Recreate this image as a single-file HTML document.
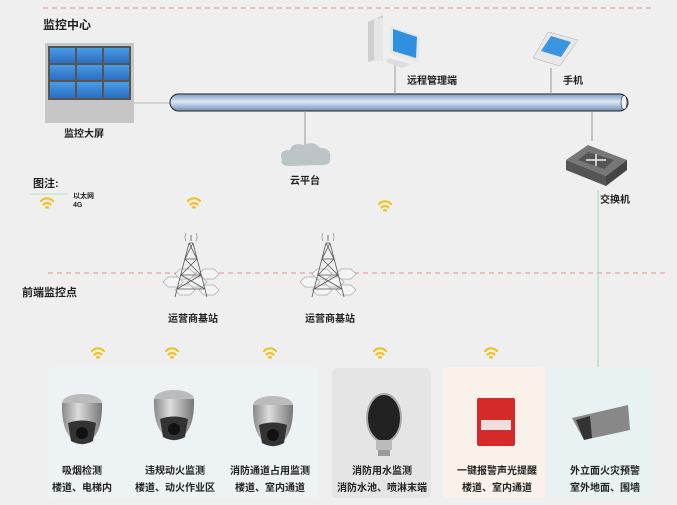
<!DOCTYPE html>
<html><head><meta charset="utf-8"><style>
html,body{margin:0;padding:0;background:#efefef;}
svg{display:block;font-family:"Liberation Sans","Noto Sans CJK SC",sans-serif;}
text{font-weight:bold;fill:#222;}
</style></head><body>
<svg width="677" height="505" viewBox="0 0 677 505" xmlns="http://www.w3.org/2000/svg">
<defs>
<linearGradient id="tube" x1="0" y1="0" x2="0" y2="1">
<stop offset="0" stop-color="#7d9cc4"/><stop offset="0.45" stop-color="#dfe9f5"/><stop offset="1" stop-color="#6f8fb8"/></linearGradient>
<linearGradient id="scr" x1="0" y1="0" x2="0" y2="1"><stop offset="0" stop-color="#4a9be6"/><stop offset="1" stop-color="#2a6fc0"/></linearGradient>
<linearGradient id="cam" x1="0" y1="0" x2="1" y2="0"><stop offset="0" stop-color="#888"/><stop offset="0.4" stop-color="#ddd"/><stop offset="1" stop-color="#777"/></linearGradient>
<g id="wifi" fill="none" stroke="#f2c01e" stroke-width="2.2" stroke-linecap="round">
<path d="M-6,-2 A8,8 0 0 1 6,-2"/><path d="M-3.5,1.5 A5,5 0 0 1 3.5,1.5"/><path d="M-1,4.5 A1.5,1.5 0 0 1 1,4.5"/></g>
<g id="tower" stroke="#555" stroke-width="0.8" fill="none">
<path d="M0,0 L0,6 M-2,8 L-16,62 M2,8 L16,62 M-2,8 L2,8 M-6,24 L6,24 M-10,40 L10,40 M-14,54 L14,54 M-2,8 L6,24 M2,8 L-6,24 M-6,24 L10,40 M6,24 L-10,40 M-10,40 L14,54 M10,40 L-14,54"/>
<path d="M-5,-2 A4,6 0 0 0 -5,6 M5,-2 A4,6 0 0 1 5,6" stroke="#999"/>
</g>
<g id="hex" fill="#f4f4f4" stroke="#aaa" stroke-width="0.7">
<path d="M-22,0 l5,-5 h10 l5,5 l-5,5 h-10z"/><path d="M-10,-8 l5,-5 h10 l5,5 l-5,5 h-10z"/><path d="M2,0 l5,-5 h10 l5,5 l-5,5 h-10z"/><path d="M-10,8 l5,-5 h10 l5,5 l-5,5 h-10z"/><path d="M14,-8 l5,-5 h10 l5,5 l-5,5 h-10z"/><path d="M14,8 l5,-5 h10 l5,5 l-5,5 h-10z"/>
</g>
<g id="dome">
<ellipse cx="0" cy="0" rx="20" ry="9" fill="#bbb"/>
<path d="M-20,0 Q-21,36 0,42 Q21,36 20,0z" fill="url(#cam)"/>
<path d="M-14,20 Q0,15 14,20 L11,38 Q0,44 -11,38z" fill="#333"/>
<circle cx="0" cy="30" r="6" fill="#111"/>
</g>
</defs>

<line x1="43" y1="8" x2="655" y2="8" stroke="#e58c8c" stroke-width="1" stroke-dasharray="5,4"/>
<line x1="48" y1="273" x2="665" y2="273" stroke="#e09090" stroke-width="1" stroke-dasharray="5,4"/>

<text x="43" y="29" font-size="12">监控中心</text>
<rect x="45" y="43" width="89" height="80" fill="#c6c6c6"/>
<rect x="48" y="46" width="83" height="54" fill="#555"/>
<g fill="url(#scr)">
<rect x="50" y="48" width="25" height="15"/><rect x="77" y="48" width="25" height="15"/><rect x="104" y="48" width="25" height="15"/>
<rect x="50" y="65" width="25" height="15"/><rect x="77" y="65" width="25" height="15"/><rect x="104" y="65" width="25" height="15"/>
<rect x="50" y="82" width="25" height="16"/><rect x="77" y="82" width="25" height="16"/><rect x="104" y="82" width="25" height="16"/>
</g>
<text x="84" y="137" font-size="10" text-anchor="middle">监控大屏</text>
<line x1="134" y1="103" x2="170" y2="103" stroke="#ccc" stroke-width="1.5"/>

<rect x="170" y="94" width="458" height="17" rx="8.5" fill="url(#tube)" stroke="#222" stroke-width="1"/>
<ellipse cx="624" cy="102.5" rx="3" ry="7" fill="#eef3fa" stroke="#222" stroke-width="0.6"/>

<line x1="305" y1="111" x2="305" y2="146" stroke="#999"/>
<path d="M282,160 Q278,150 290,150 Q292,142 304,145 Q314,140 320,148 Q332,148 330,158 Q332,166 318,165 L290,166 Q280,166 282,160z" fill="#bcc4c8"/>
<text x="305" y="184" font-size="10" text-anchor="middle">云平台</text>

<line x1="395" y1="64" x2="395" y2="94" stroke="#999"/>
<path d="M368,22 L383,15 L383,58 L368,62z" fill="#cfcfcf"/><rect x="374" y="18" width="9" height="43" fill="#e6e6e6"/>
<path d="M390,26 L420,36 L419,63 L390,54z" fill="#e8e8e8"/><path d="M393,29 L417,37 L416,58 L393,51z" fill="#2f8fe0"/>
<path d="M388,58 L410,64 L402,68 L386,62z" fill="#ddd"/>
<text x="407" y="84" font-size="10">远程管理端</text>

<line x1="551" y1="68" x2="551" y2="94" stroke="#999"/>
<path d="M548,32 L578,40 L560,66 L533,58z" fill="#e8e8e8" stroke="#aaa" stroke-width="0.5"/>
<path d="M551,36 L571,42 L561,57 L541,51z" fill="#3a95e0"/>
<text x="563" y="84" font-size="10">手机</text>

<line x1="592" y1="111" x2="592" y2="141" stroke="#999"/>
<path d="M566,160 L588,145 L627,160 L606,176z" fill="#777"/>
<path d="M566,160 L606,176 L606,186 L566,170z" fill="#555"/>
<path d="M606,176 L627,160 L627,170 L606,186z" fill="#444"/>
<path d="M578,160 L588,152 L614,160 L604,169z" fill="#555"/>
<path d="M586,160 H606 M596,154 V166" stroke="#eee" stroke-width="1.5"/>
<line x1="598" y1="190" x2="598" y2="415" stroke="#9fd9b0" stroke-width="1"/>
<text x="600" y="203" font-size="10">交换机</text>

<text x="33" y="187" font-size="11">图注:</text>
<line x1="30" y1="194" x2="68" y2="194" stroke="#b8e0c0"/>
<text x="73" y="198" font-size="7">以太网</text>
<text x="73" y="207" font-size="7">4G</text>
<use href="#wifi" x="47" y="203"/>

<use href="#wifi" x="194" y="203"/>
<use href="#wifi" x="385" y="206"/>

<use href="#hex" x="185" y="282"/>
<use href="#tower" x="191" y="235"/>
<use href="#hex" x="322" y="282"/>
<use href="#tower" x="328" y="235"/>
<text x="193" y="322" font-size="10" text-anchor="middle">运营商基站</text>
<text x="330" y="322" font-size="10" text-anchor="middle">运营商基站</text>
<text x="22" y="296" font-size="11">前端监控点</text>

<use href="#wifi" x="98" y="353"/><use href="#wifi" x="172" y="353"/><use href="#wifi" x="270" y="353"/>
<use href="#wifi" x="380" y="353"/><use href="#wifi" x="491" y="353"/>

<rect x="48" y="367" width="271" height="131" rx="5" fill="#edf2f5"/>
<rect x="332" y="368" width="99" height="130" rx="5" fill="#e5e5e5"/>
<rect x="443" y="367" width="102" height="131" rx="5" fill="#faf2ea"/>
<rect x="550" y="367" width="105" height="131" rx="5" fill="#e8f2f2"/>

<use href="#dome" x="82" y="403"/>
<use href="#dome" x="174" y="399"/>
<use href="#dome" x="273" y="405"/>
<ellipse cx="384" cy="418" rx="17" ry="24" fill="#222" stroke="#aaa" stroke-width="2"/>
<rect x="376" y="440" width="16" height="10" fill="#bbb"/>
<rect x="378" y="450" width="12" height="6" fill="#999"/>
<rect x="477" y="398" width="38" height="48" rx="2" fill="#d42a2a"/>
<rect x="481" y="420" width="30" height="10" fill="#f0dede"/>
<path d="M572,418 L628,405 L630,430 L584,440z" fill="#888"/>
<path d="M576,420 L590,416 L592,438 L584,440z" fill="#333"/>

<g font-size="10" text-anchor="middle">
<text x="82" y="474">吸烟检测</text><text x="82" y="491">楼道、电梯内</text>
<text x="175" y="474">违规动火监测</text><text x="175" y="491">楼道、动火作业区</text>
<text x="270" y="474">消防通道占用监测</text><text x="270" y="491">楼道、室内通道</text>
<text x="382" y="474">消防用水监测</text><text x="382" y="491">消防水池、喷淋末端</text>
<text x="497" y="474">一键报警声光提醒</text><text x="497" y="491">楼道、室内通道</text>
<text x="605" y="474">外立面火灾预警</text><text x="605" y="491">室外地面、围墙</text>
</g>
</svg>
</body></html>
